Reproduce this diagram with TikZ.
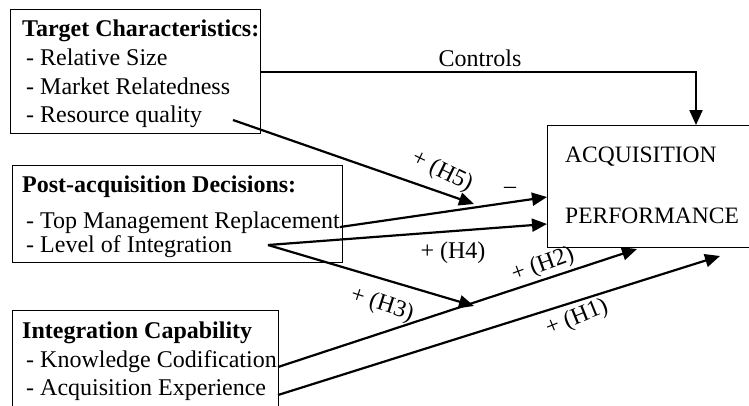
\documentclass[tikz,border=0pt]{standalone}
\usepackage{fontspec}
\setmainfont{Liberation Serif}
\usetikzlibrary{arrows.meta}
\begin{document}
\begin{tikzpicture}[x=1pt,y=-1pt,
  box/.style={draw,line width=1.2pt,anchor=north west,inner sep=0pt},
  txt/.style={anchor=base west,inner sep=0pt,font=\fontsize{24}{28}\selectfont},
  head/.style={txt,font=\fontsize{24}{28}\selectfont\bfseries},
  lbl/.style={inner sep=0pt,font=\fontsize{24}{28}\selectfont},
  conn/.style={line width=2.2pt,-{Triangle[length=15pt,width=13pt]}}]
\useasboundingbox (0,0) rectangle (749,405);
% boxes
\node[box,minimum width=250pt,minimum height=124pt] (tc) at (10,9) {};
\node[box,minimum width=330pt,minimum height=97pt] (pd) at (12,165) {};
\node[box,minimum width=266pt,minimum height=120pt] (ic) at (12,310) {};
\node[box,minimum width=210pt,minimum height=122pt] (ap) at (547,125) {};
% texts
\node[head] (t0) at (22,36) {Target Characteristics:};
\node[txt] (t1) at (26,65) {- Relative Size};
\node[txt] (t2) at (26,94) {- Market Relatedness};
\node[txt] (t3) at (26,122) {- Resource quality};
\node[head] (p0) at (22,192) {Post-acquisition Decisions:};
\node[txt] (p1) at (26,228) {- Top Management Replacement};
\node[txt] (p2) at (26,252) {- Level of Integration};
\node[head] (i0) at (22,338) {Integration Capability};
\node[txt] (i1) at (26,367) {- Knowledge Codification};
\node[txt] (i2) at (26,395) {- Acquisition Experience};
\node[txt,font=\fontsize{23.5}{28}\selectfont] (a1) at (565,162) {ACQUISITION};
\node[txt,font=\fontsize{23.5}{28}\selectfont] (a2) at (565,223) {PERFORMANCE};
% connector endpoints
\coordinate (cs) at (260,72);
\coordinate (ct) at (696,72);
\coordinate (ce) at (696,125);
\coordinate (h5s) at (233,120);
\coordinate (h5e) at (474,204);
\coordinate (ms) at (340,227);
\coordinate (me) at (547,197);
\coordinate (lv) at (268,245);
\coordinate (h4e) at (547,224);
\coordinate (h3e) at (474,306);
\coordinate (h2s) at (278,367);
\coordinate (h2e) at (637,249);
\coordinate (h1s) at (278,395);
\coordinate (h1e) at (720,256);
% connectors
\draw[conn] (cs) -- (ct) -- (ce);
\draw[conn] (h5s) -- (h5e);
\draw[conn] (ms) -- (me);
\draw[conn] (lv) -- (h4e);
\draw[conn] (lv) -- (h3e);
\draw[conn] (h2s) -- (h2e);
\draw[conn] (h1s) -- (h1e);
% labels
\node[lbl,anchor=base] (lc) at (480,66) {Controls};
\node[lbl,rotate=-26] (l5) at (442,172) {+ (H5)};
\node[lbl] (lm) at (510,190) {--};
\node[lbl] (l4) at (453,253) {+ (H4)};
\node[lbl,rotate=-18] (l3) at (382,305) {+ (H3)};
\node[lbl,rotate=20] (l2) at (543,265) {+ (H2)};
\node[lbl,rotate=22] (l1) at (577,318) {+ (H1)};
\end{tikzpicture}
\end{document}
